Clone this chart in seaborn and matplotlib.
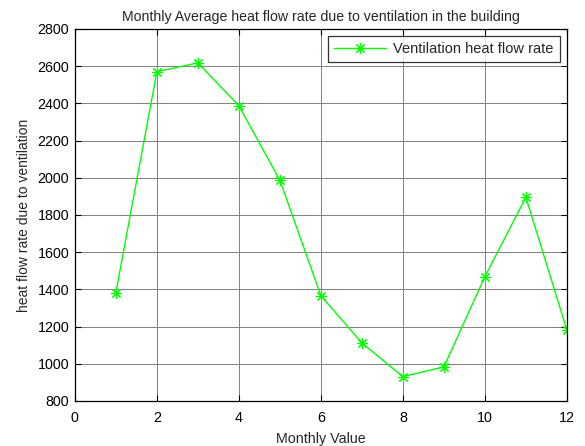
import matplotlib
matplotlib.use("Agg")
import matplotlib.pyplot as plt
import seaborn as sns
import pandas as pd

months = [1, 2, 3, 4, 5, 6, 7, 8, 9, 10, 11, 12]
heat_flow = [1382, 2570, 2618, 2387, 1987, 1366, 1112, 931, 983, 1468, 1895, 1182]
x_ticks = [0, 2, 4, 6, 8, 10, 12]
y_ticks = [800, 1000, 1200, 1400, 1600, 1800, 2000, 2200, 2400, 2600, 2800]

df = pd.DataFrame({"month": months, "rate": heat_flow})

sns.set_style("white")
plt.rcParams["font.family"] = ["Liberation Sans", "DejaVu Sans"]

fig = plt.figure(figsize=(5.85, 4.46), dpi=100)
ax = fig.add_axes([0.128, 0.101, 0.841, 0.834])

sns.lineplot(data=df, x="month", y="rate", ax=ax, color="#00ff00",
             linewidth=1.0, marker=(8, 2, 0), markersize=8,
             markeredgecolor="#00ff00", markeredgewidth=0.8,
             label="Ventilation heat flow rate")

ax.set_xlim(0, 12)
ax.set_ylim(800, 2800)
ax.set_xticks(x_ticks)
ax.set_yticks(y_ticks)
ax.grid(True, color="0.5", linestyle="-", linewidth=0.7)
ax.set_axisbelow(True)

for side in ax.spines.values():
    side.set_color("black")
    side.set_linewidth(0.9)
ax.tick_params(direction="in", length=4, width=0.8, top=True, right=True,
               bottom=True, left=True, labelsize=10.3, colors="black")
ax.tick_params(axis="x", pad=7)
ax.tick_params(axis="y", pad=4)

ax.set_title("Monthly Average heat flow rate due to ventilation in the building",
             fontsize=10.2, pad=6)
ax.set_xlabel("Monthly Value", fontsize=10.3, labelpad=5)
ax.set_ylabel("heat flow rate due to ventilation", fontsize=10, labelpad=5)

leg = ax.legend(loc="upper right", fontsize=10.5, frameon=True, fancybox=False,
                borderaxespad=0.5, handlelength=3.6, borderpad=0.4,
                handletextpad=0.5)
leg.get_frame().set_edgecolor("black")
leg.get_frame().set_linewidth(0.9)

fig.savefig("out.png", dpi=100, facecolor="white")
